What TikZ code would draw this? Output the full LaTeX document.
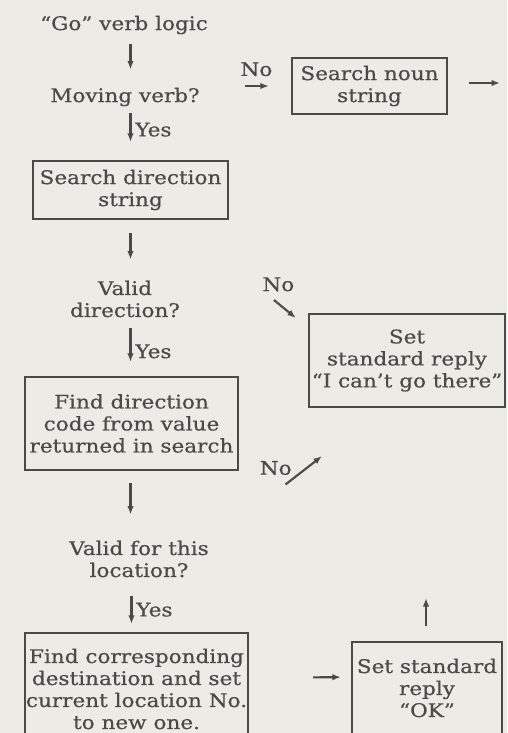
\documentclass[tikz,border=0pt]{standalone}
\usepackage{fontspec}
\setmainfont{DejaVu Serif}[FakeStretch=1.15, FakeBold=0.5]
\usepackage{xcolor}
\usetikzlibrary{arrows.meta,positioning,calc}
\definecolor{paper}{HTML}{EDEBE5}
\definecolor{ink}{HTML}{4A4A4A}
\tikzset{
  gobox/.style={draw=ink, line width=0.9pt, text=ink, align=center, inner sep=0pt, font=\fontsize{7.5}{8.8}\selectfont},
  gotext/.style={text=ink, align=center, inner sep=0pt, font=\fontsize{7.5}{8.8}\selectfont},
  golabel/.style={text=ink, inner sep=1.5pt, font=\fontsize{7.5}{8.8}\selectfont},
  goline/.style={-{Latex[length=3.4pt,width=2.6pt]}, draw=ink, line width=0.85pt}
}

\begin{document}
\begin{tikzpicture}[x=0.4pt, y=-0.4pt]
  \fill[paper] (0,0) rectangle (507,733);
  \useasboundingbox (0,0) rectangle (507,733);
  \clip (0,0) rectangle (507,733);

  % main column
  \node[gotext, minimum width=66.8pt, minimum height=9.6pt] (go) at (124,25) {``Go'' verb logic};
  \node[gotext, minimum width=58pt, minimum height=9.6pt] (moving) at (125,97) {Moving verb?};
  \node[gobox, minimum width=78pt, minimum height=23.2pt] (dir) at (130.5,190) {Search direction\\string};
  \node[gotext, minimum width=41.2pt, minimum height=17.6pt] (valid) at (125,299) {Valid\\direction?};
  \node[gobox, minimum width=85.2pt, minimum height=37.2pt] (find) at (131.5,423.5) {Find direction\\code from value\\returned in search};
  \node[gotext, minimum width=56pt, minimum height=17.6pt] (validloc) at (139,559) {Valid for this\\location?};
  \node[gobox, minimum width=89.2pt, minimum height=44.8pt] (dest) at (136.5,689) {Find corresponding\\destination and set\\current location No.\\to new one.};

  % right column
  \node[gobox, minimum width=62pt, minimum height=22.4pt] (noun) at (369.5,86) {Search noun\\string};
  \node[gobox, minimum width=78.4pt, minimum height=37.2pt] (cantgo) at (407,360.5) {Set\\standard reply\\``I can't go there''};
  \node[gobox, minimum width=60pt, minimum height=36.8pt] (ok) at (427,688) {Set standard\\reply\\``OK''};

  \coordinate (nounout) at (500,83);
  \coordinate (okout) at (426,598);

  \draw[goline, shorten <=2.4pt, shorten >=6pt] (go.south -| dir) -- (moving.north -| dir);
  \draw[goline, shorten <=1.2pt, shorten >=7.2pt] (moving.south -| dir) -- node[golabel, right, pos=0.4] {Yes} (dir.north);
  \draw[goline, shorten <=5.2pt, shorten >=6.8pt] (dir.south) -- (valid.north -| dir);
  \draw[goline, shorten <=2.4pt, shorten >=5.6pt] (valid.south -| dir) -- node[golabel, right, pos=0.55] {Yes} (find.north -| dir);
  \draw[goline, shorten <=4.8pt, shorten >=8.8pt] (find.south -| dir) -- (validloc.north -| dir);
  \draw[goline, shorten <=5.6pt, shorten >=3.2pt] (validloc.south -| find) -- node[golabel, right, pos=0.56] {Yes} (dest.north -| find);

  \draw[goline, shorten <=18pt, shorten >=8.8pt] (moving.east |- noun.west) -- node[golabel, above=2pt, pos=0.62] {No} (noun.west);
  \draw[goline, shorten <=8.4pt] (noun.east |- nounout) -- (nounout);
  \draw[goline] ([xshift=37.4pt,yshift=-0.4pt]valid.east) -- node[golabel, above=3pt, pos=0.2] {No} ([xshift=-4.8pt,yshift=17pt]cantgo.west);
  \draw[goline] ([xshift=30.4pt,yshift=20.8pt]validloc.north east) -- node[golabel, left, pos=0.3, yshift=3.2pt] {No} ([xshift=-34pt,yshift=-19.2pt]cantgo.south);
  \draw[goline, shorten <=25.6pt, shorten >=4pt] ([yshift=4.4pt]dest.east) -- ([yshift=4.4pt]ok.west);
  \draw[goline, shorten <=6pt] (ok.north -| okout) -- (okout);
\end{tikzpicture}
\end{document}
